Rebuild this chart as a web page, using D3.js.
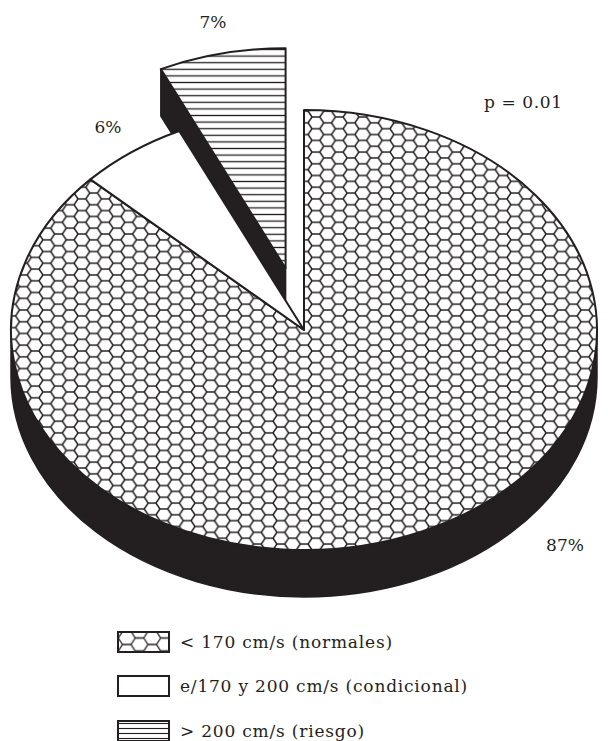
<!DOCTYPE html>
<html>
<head>
<meta charset="utf-8">
<script src="https://cdn.jsdelivr.net/npm/d3@7/dist/d3.min.js"></script>
<style>
  body { margin: 0; background: #fff; }
  text { font-family: "DejaVu Serif", serif; fill: #231f20; }
</style>
</head>
<body>
<div id="chart"></div>
<script>
// Data
var categories = ["< 170 cm/s (normales)", "e/170 y 200 cm/s (condicional)", "> 200 cm/s (riesgo)"];
var percents = [87, 6, 7];
var percentLabels = ["87%", "6%", "7%"];
var explodedSlice = [false, false, true];
var fills = ["url(#hex)", "#fff", "url(#hatch)"];
var legendFills = ["url(#hexLegend)", "#fff", "url(#hatchLegend)"];
var noteText = "p = 0.01";

// Layout
var width = 608, height = 741;
var cx = 304, cy = 330;   // centre of the top ellipse
var rx = 293, ry = 220;   // radii of the top ellipse
var depth = 47;           // thickness of the pie
var explode = 0.288;      // how far the exploded slice moves out
var ink = "#231f20";

var svg = d3.select("#chart")
  .append("svg")
  .attr("width", width)
  .attr("height", height);

var defs = svg.append("defs");

// honeycomb fill (flat top hexagons), s = side, h = row height
function hexPattern(id, s, h, sw, x0, y0) {
  var p = defs.append("pattern")
    .attr("id", id)
    .attr("patternUnits", "userSpaceOnUse")
    .attr("x", x0 || 0)
    .attr("y", y0 || 0)
    .attr("width", 3 * s)
    .attr("height", h);
  p.append("rect").attr("width", 3 * s).attr("height", h).attr("fill", "#fff");
  p.append("path")
    .attr("d",
      "M0," + h / 2 + "H" + 0.5 * s + "L" + s + ",0H" + 2 * s + "L" + 2.5 * s + "," + h / 2 + "H" + 3 * s +
      "M" + 0.5 * s + "," + h / 2 + "L" + s + "," + h + "H" + 2 * s + "L" + 2.5 * s + "," + h / 2)
    .attr("fill", "none")
    .attr("stroke", ink)
    .attr("stroke-width", sw);
}

// horizontal line fill
function hatchPattern(id, gap, sw, y0) {
  var p = defs.append("pattern")
    .attr("id", id)
    .attr("patternUnits", "userSpaceOnUse")
    .attr("y", y0 || 0)
    .attr("width", 20)
    .attr("height", gap);
  p.append("rect").attr("width", 20).attr("height", gap).attr("fill", "#fff");
  p.append("line")
    .attr("x1", 0).attr("x2", 20)
    .attr("y1", gap / 2).attr("y2", gap / 2)
    .attr("stroke", ink)
    .attr("stroke-width", sw);
}

hexPattern("hex", 7.8, 11.7, 1.5);
hexPattern("hexLegend", 8.5, 13, 1.3, 118 - 4, 632 - 0.5);
hatchPattern("hatch", 6.6, 1.3);
hatchPattern("hatchLegend", 5, 1.1, 721);

// d3.pie gives clockwise angles from 12 o'clock, we map them onto the ellipse
var pie = d3.pie().sort(null).value(function(d) { return d; });
var arcs = pie(percents);

function pt(a, ox, oy) {
  return [cx + ox + rx * Math.sin(a), cy + oy - ry * Math.cos(a)];
}

function offsetOf(d, i) {
  if (!explodedSlice[i]) return [0, 0];
  var mid = (d.startAngle + d.endAngle) / 2;
  return [explode * rx * Math.sin(mid), -explode * ry * Math.cos(mid)];
}

function topPath(d, o) {
  var p0 = pt(d.startAngle, o[0], o[1]);
  var p1 = pt(d.endAngle, o[0], o[1]);
  var large = d.endAngle - d.startAngle > Math.PI ? 1 : 0;
  return "M" + (cx + o[0]) + "," + (cy + o[1]) + "L" + p0 +
    "A" + rx + "," + ry + " 0 " + large + " 1 " + p1 + "Z";
}

// visible part of the outer wall: between 90 and 270 degrees
function wallPath(d, o) {
  var a0 = Math.max(d.startAngle, Math.PI / 2);
  var a1 = Math.min(d.endAngle, 3 * Math.PI / 2);
  if (a1 <= a0) return null;
  var p0 = pt(a0, o[0], o[1]), p1 = pt(a1, o[0], o[1]);
  var q0 = pt(a0, o[0], o[1] + depth), q1 = pt(a1, o[0], o[1] + depth);
  var large = a1 - a0 > Math.PI ? 1 : 0;
  return "M" + p0 + "A" + rx + "," + ry + " 0 " + large + " 1 " + p1 +
    "L" + q1 + "A" + rx + "," + ry + " 0 " + large + " 0 " + q0 + "Z";
}

// radial wall of a slice edge (only seen when the slice is pulled out)
function edgePath(a, o) {
  var c = [cx + o[0], cy + o[1]];
  var p = pt(a, o[0], o[1]);
  return "M" + c + "L" + p + "L" + [p[0], p[1] + depth] + "L" + [c[0], c[1] + depth] + "Z";
}

// exploded slices first, the solid pie is drawn over them
var order = d3.range(arcs.length).sort(function(a, b) {
  return (explodedSlice[b] ? 1 : 0) - (explodedSlice[a] ? 1 : 0);
});

order.forEach(function(i) {
  var d = arcs[i];
  var o = offsetOf(d, i);
  var g = svg.append("g").attr("class", "slice");
  if (explodedSlice[i]) {
    if (Math.sin(d.startAngle) < -1e-6) {
      g.append("path").attr("d", edgePath(d.startAngle, o))
        .attr("fill", ink).attr("stroke", ink).attr("stroke-width", 1.5).attr("stroke-linejoin", "round");
    }
    if (Math.sin(d.endAngle) > 1e-6) {
      g.append("path").attr("d", edgePath(d.endAngle, o))
        .attr("fill", ink).attr("stroke", ink).attr("stroke-width", 1.5).attr("stroke-linejoin", "round");
    }
  }
  var w = wallPath(d, o);
  if (w) {
    g.append("path").attr("d", w)
      .attr("fill", ink).attr("stroke", ink).attr("stroke-width", 1.5);
  }
  g.append("path").attr("d", topPath(d, o))
    .attr("fill", fills[i])
    .attr("stroke", ink)
    .attr("stroke-width", 2)
    .attr("stroke-linejoin", "round");
});

// percent labels
var labelXY = [[565, 551], [108, 133], [213, 28]];
svg.selectAll("text.pct")
  .data(percentLabels)
  .enter()
  .append("text")
  .attr("class", "pct")
  .attr("x", function(d, i) { return labelXY[i][0]; })
  .attr("y", function(d, i) { return labelXY[i][1]; })
  .attr("text-anchor", "middle")
  .attr("font-size", 17)
  .text(function(d) { return d; });

svg.append("text")
  .attr("x", 484)
  .attr("y", 108)
  .attr("font-size", 17)
  .attr("letter-spacing", 0.6)
  .text(noteText);

// legend
var legend = svg.append("g").attr("class", "legend");
var legendY = [632, 676, 721];
categories.forEach(function(c, i) {
  legend.append("rect")
    .attr("x", 118)
    .attr("y", legendY[i])
    .attr("width", 51)
    .attr("height", 20)
    .attr("fill", legendFills[i])
    .attr("stroke", ink)
    .attr("stroke-width", 2);
  legend.append("text")
    .attr("x", 180)
    .attr("y", legendY[i] + 16)
    .attr("font-size", 17)
    .attr("letter-spacing", 0.8)
    .text(c);
});
</script>
</body>
</html>
